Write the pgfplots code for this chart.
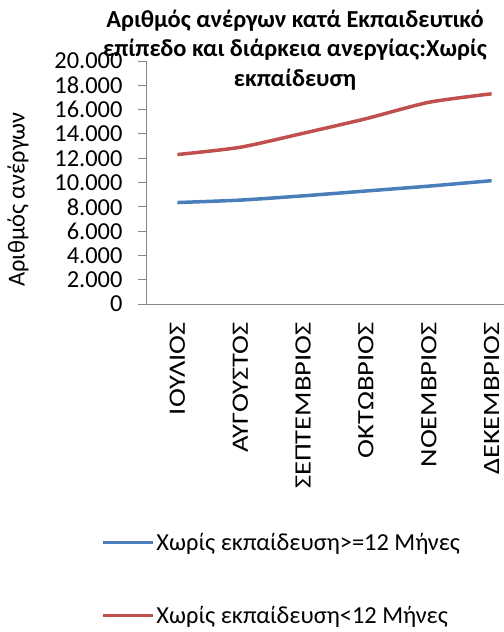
\documentclass[border=0pt]{standalone}
\usepackage{fontspec}
\setmainfont{Carlito}
\newfontfamily\ticklabelfont[FakeStretch=1.22]{Carlito}
\usepackage{pgfplots}
\pgfplotsset{compat=1.18}
\definecolor{exblue}{RGB}{74,126,187}
\definecolor{exred}{RGB}{192,80,77}
\definecolor{axgray}{RGB}{134,134,134}
\begin{document}
\begin{tikzpicture}[x=1bp,y=1bp]
\useasboundingbox (0,0) rectangle (504,632);
\clip (0,0) rectangle (504,632);
\begin{axis}[
  at={(146bp,328bp)}, anchor=south west,
  scale only axis, width=377bp, height=243bp,
  xmin=0, xmax=6, ymin=0, ymax=20000,
  axis lines=left, axis line style={axgray, line width=0.8bp, -},
  clip=false,
  font=\fontsize{24.5}{29}\selectfont,
  xtick={0.5,1.5,2.5,3.5,4.5,5.5},
  xticklabels={ΙΟΥΛΙΟΣ,ΑΥΓΟΥΣΤΟΣ,ΣΕΠΤΕΜΒΡΙΟΣ,ΟΚΤΩΒΡΙΟΣ,ΝΟΕΜΒΡΙΟΣ,ΔΕΚΕΜΒΡΙΟΣ},
  x tick style={draw=none},
  extra x ticks={0,1,2,3,4,5,6},
  extra x tick labels={},
  extra x tick style={tick style={axgray, line width=0.8bp}, major tick length=8bp},
  xticklabel style={yshift=-9bp, rotate=90, anchor=east, inner sep=1bp, font=\ticklabelfont\fontsize{23.5}{28}\selectfont},
  ytick={0,2000,...,20000},
  y tick style={axgray, line width=0.8bp},
  tick align=outside, major tick length=8bp,
  scaled y ticks=false,
  yticklabel style={/pgf/number format/1000 sep={.}, /pgf/number format/assume math mode=true, xshift=-12bp, font=\fontsize{24.5}{29}\selectfont},
  ylabel={Αριθμός ανέργων},
  ylabel style={at={(axis description cs:-0.3395,0.43)}, anchor=center, font=\fontsize{24.5}{29}\selectfont},
  legend style={at={(axis description cs:-0.12,-0.943)}, anchor=north west, draw=none, fill=none,
    inner sep=0pt, row sep=54bp, font=\fontsize{24.5}{29}\selectfont,
    nodes={inner sep=0bp, inner xsep=2bp}},
  legend cell align=left,
  legend image code/.code={\draw[#1, line width=3.5bp] (0bp,0bp) -- (50bp,0bp);},
]
\addplot[exblue, line width=3.5bp, smooth, tension=0.4] coordinates {
  (0.5,8350) (1.5,8550) (2.5,8900) (3.5,9300) (4.5,9700) (5.5,10150)};
\addlegendentry{Χωρίς εκπαίδευση>=12 Μήνες}
\addplot[exred, line width=3.5bp, smooth, tension=0.4] coordinates {
  (0.5,12300) (1.5,12900) (2.5,14050) (3.5,15250) (4.5,16600) (5.5,17300)};
\addlegendentry{Χωρίς εκπαίδευση<12 Μήνες}
\end{axis}
\node[align=center, font=\bfseries\fontsize{24.5}{29.5}\selectfont] at (295,582)
  {Αριθμός ανέργων κατά Εκπαιδευτικό\\επίπεδο και διάρκεια ανεργίας:Χωρίς\\εκπαίδευση};
\end{tikzpicture}
\end{document}
